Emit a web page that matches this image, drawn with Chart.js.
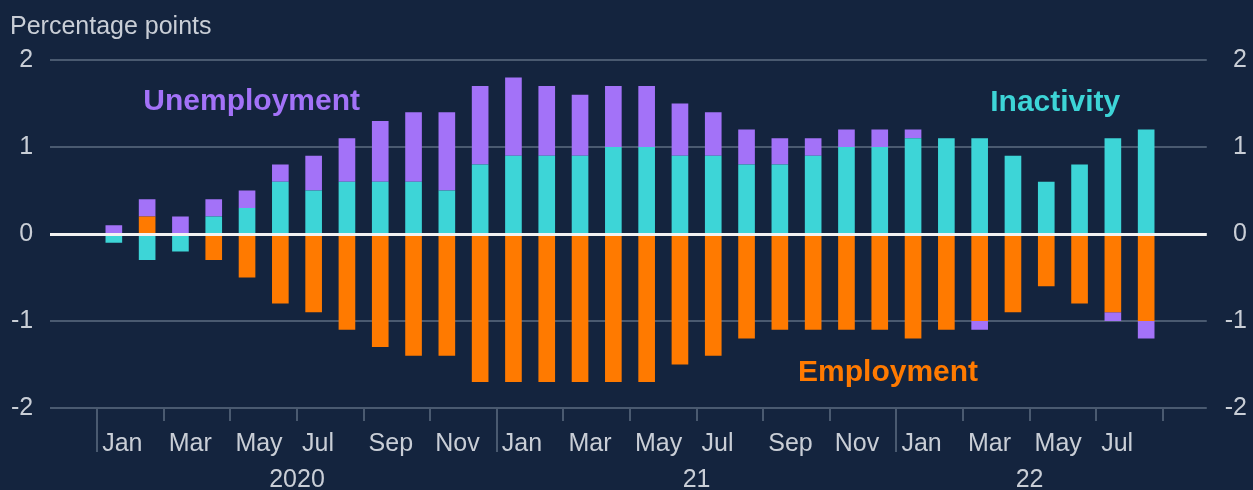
<!DOCTYPE html>
<html>
<head>
<meta charset="utf-8">
<script src="https://cdn.jsdelivr.net/npm/chart.js@4/dist/chart.umd.min.js"></script>
<style>
  html, body { margin: 0; padding: 0; background: #14243e; }
  canvas { display: block; }
</style>
</head>
<body>
<canvas id="c" width="1253" height="490"></canvas>
<script>
// ---- Data (Jan 2020 .. Aug 2022), percentage points ----
const months = [
  'Jan 2020','Feb 2020','Mar 2020','Apr 2020','May 2020','Jun 2020','Jul 2020','Aug 2020','Sep 2020','Oct 2020','Nov 2020','Dec 2020',
  'Jan 2021','Feb 2021','Mar 2021','Apr 2021','May 2021','Jun 2021','Jul 2021','Aug 2021','Sep 2021','Oct 2021','Nov 2021','Dec 2021',
  'Jan 2022','Feb 2022','Mar 2022','Apr 2022','May 2022','Jun 2022','Jul 2022','Aug 2022'
];
const employment = [
  0, 0.2, 0, -0.3, -0.5, -0.8, -0.9, -1.1, -1.3, -1.4, -1.4, -1.7,
  -1.7, -1.7, -1.7, -1.7, -1.7, -1.5, -1.4, -1.2, -1.1, -1.1, -1.1, -1.1,
  -1.2, -1.1, -1.0, -0.9, -0.6, -0.8, -0.9, -1.0
];
const inactivity = [
  -0.1, -0.3, -0.2, 0.2, 0.3, 0.6, 0.5, 0.6, 0.6, 0.6, 0.5, 0.8,
  0.9, 0.9, 0.9, 1.0, 1.0, 0.9, 0.9, 0.8, 0.8, 0.9, 1.0, 1.0,
  1.1, 1.1, 1.1, 0.9, 0.6, 0.8, 1.1, 1.2
];
const unemployment = [
  0.1, 0.2, 0.2, 0.2, 0.2, 0.2, 0.4, 0.5, 0.7, 0.8, 0.9, 0.9,
  0.9, 0.8, 0.7, 0.7, 0.7, 0.6, 0.5, 0.4, 0.3, 0.2, 0.2, 0.2,
  0.1, 0, -0.1, 0, 0, 0, -0.1, -0.2
];
const monthTickLabels = ['Jan','Mar','May','Jul','Sep','Nov','Jan','Mar','May','Jul','Sep','Nov','Jan','Mar','May','Jul',''];
const yearLabels = ['2020','21','22'];
const yTicks = [-2, -1, 0, 1, 2];

// ---- Styles ----
const C_PURPLE = '#a372f8';
const C_CYAN = '#3dd5d7';
const C_ORANGE = '#ff7a00';
const C_GRID = '#4a5a70';
const C_TEXT = '#c9ced6';
const C_NONE = 'rgba(0,0,0,0)';
const FONT = 'Liberation Sans, Arial, Helvetica, sans-serif';

// month index i -> bar centre; boundaries at i - 0.5
const monthIdx = months.map((_, i) => i);
const monthTickPos = monthTickLabels.map((_, k) => -0.5 + 2 * k);
const yearStarts = [];
months.forEach((m, i) => { if (m.startsWith('Jan')) yearStarts.push(i - 0.5); });
const yearEnds = yearStarts.slice(1).concat([months.length - 0.5]);
const yearMid = yearStarts.map((s, k) => (s + yearEnds[k]) / 2);
const yearTickPos = yearStarts.concat(yearMid).sort((a, b) => a - b);

const X_MIN = -1.91, X_MAX = 32.82;

const toPts = arr => arr.map((v, i) => ({ x: monthIdx[i], y: v }));

const annotations = [
  { text: 'Unemployment', x: 4.14, y: 1.52, color: C_PURPLE },
  { text: 'Inactivity', x: 28.27, y: 1.51, color: C_CYAN },
  { text: 'Employment', x: 23.25, y: -1.6, color: C_ORANGE }
];

const annotationPlugin = {
  id: 'labels',
  afterDatasetsDraw(chart) {
    const { ctx, scales } = chart;
    ctx.save();
    ctx.font = 'bold 30px ' + FONT;
    ctx.textAlign = 'center';
    ctx.textBaseline = 'middle';
    annotations.forEach(a => {
      ctx.fillStyle = a.color;
      ctx.fillText(a.text, scales.x.getPixelForValue(a.x), scales.y.getPixelForValue(a.y));
    });
    ctx.restore();
  }
};

new Chart(document.getElementById('c'), {
  type: 'bar',
  data: {
    datasets: [
      { label: 'Employment', data: toPts(employment), backgroundColor: C_ORANGE },
      { label: 'Inactivity', data: toPts(inactivity), backgroundColor: C_CYAN },
      { label: 'Unemployment', data: toPts(unemployment), backgroundColor: C_PURPLE }
    ]
  },
  options: {
    responsive: false,
    animation: false,
    devicePixelRatio: 1,
    datasets: { bar: { categoryPercentage: 1, barPercentage: 0.5, borderWidth: 0 } },
    layout: { padding: { left: 10, right: 6, top: 0, bottom: 23 } },
    plugins: {
      legend: { display: false },
      tooltip: { enabled: false },
      title: {
        display: true,
        text: 'Percentage points',
        align: 'start',
        color: C_TEXT,
        font: { family: FONT, size: 25, weight: 'normal' },
        padding: { top: 12, bottom: 18 }
      }
    },
    scales: {
      x: {
        type: 'linear',
        axis: 'x',
        position: 'bottom',
        min: X_MIN, max: X_MAX,
        bounds: 'data',
        offset: false,
        stacked: true,
        afterBuildTicks: s => { s.ticks = monthTickPos.map(v => ({ value: v })); },
        grid: { offset: false, drawOnChartArea: false, drawTicks: true, tickLength: 13, color: C_GRID, lineWidth: 2 },
        border: { display: false },
        ticks: {
          autoSkip: false, maxRotation: 0, align: 'start', labelOffset: 5, padding: 8,
          color: C_TEXT, font: { family: FONT, size: 25 },
          callback: (v, i) => monthTickLabels[i]
        }
      },
      xYear: {
        type: 'linear',
        axis: 'x',
        position: { y: -2 },
        min: X_MIN, max: X_MAX,
        bounds: 'data',
        offset: false,
        afterBuildTicks: s => { s.ticks = yearTickPos.map(v => ({ value: v })); },
        grid: {
          offset: false, drawOnChartArea: false, drawTicks: true, tickLength: 44, lineWidth: 2,
          color: c => (c.tick && yearStarts.includes(c.tick.value)) ? C_GRID : C_NONE
        },
        border: { display: false },
        ticks: {
          autoSkip: false, maxRotation: 0, padding: 13,
          color: C_TEXT, font: { family: FONT, size: 25 },
          callback: v => { const k = yearMid.indexOf(v); return k >= 0 ? yearLabels[k] : ''; }
        }
      },
      y: {
        position: 'left',
        stacked: true,
        min: -2, max: 2,
        afterBuildTicks: s => { s.ticks = yTicks.map(v => ({ value: v })); },
        grid: { color: C_GRID, lineWidth: 2, drawTicks: true, tickLength: 16, tickColor: C_NONE },
        border: { display: false },
        ticks: { padding: 1, color: C_TEXT, font: { family: FONT, size: 25 } }
      },
      yRight: {
        position: 'right',
        axis: 'y',
        min: -2, max: 2,
        afterBuildTicks: s => { s.ticks = yTicks.map(v => ({ value: v })); },
        grid: { display: true, drawOnChartArea: false, color: C_NONE, drawTicks: true, tickLength: 16, tickColor: C_NONE },
        border: { display: false },
        ticks: { padding: 1, crossAlign: 'far', color: C_TEXT, font: { family: FONT, size: 25 } }
      },
      yZero: {
        position: 'left',
        axis: 'y',
        min: -2, max: 2,
        afterBuildTicks: s => { s.ticks = [{ value: 0 }]; },
        grid: { color: '#f2f2f2', lineWidth: 3, drawTicks: false, z: 1 },
        border: { display: false },
        ticks: { display: false }
      }
    }
  },
  plugins: [annotationPlugin]
});
</script>
</body>
</html>
